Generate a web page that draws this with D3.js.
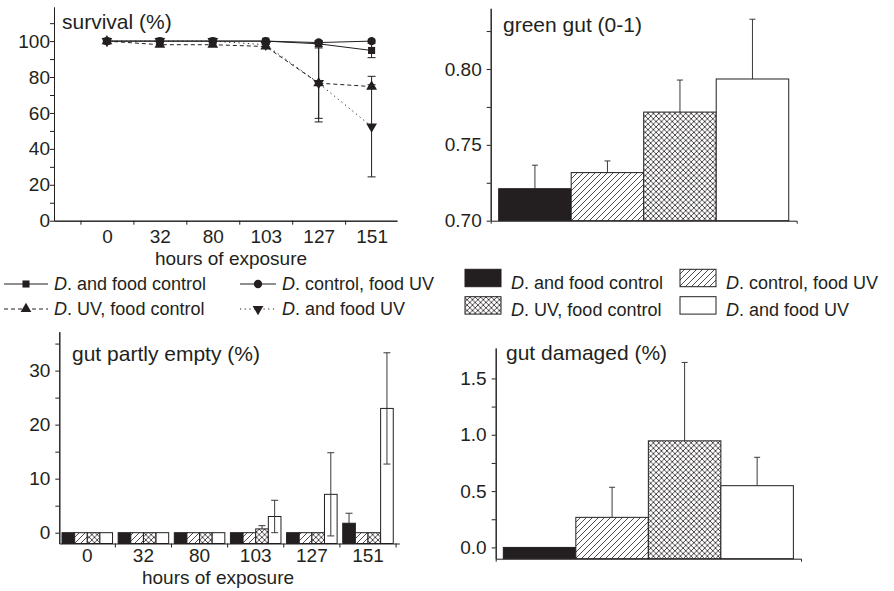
<!DOCTYPE html>
<html>
<head>
<meta charset="utf-8">
<script src="https://cdn.jsdelivr.net/npm/d3@7"></script>
<style>
body { margin: 0; background: #fff; }
svg text { font-family: "Liberation Sans", Arial, sans-serif; fill: #231f20; }
</style>
</head>
<body>
<div id="chart"></div>
<script>
// categories
const hours = ["0", "32", "80", "103", "127", "151"]
const groups = ["D. and food control", "D. control, food UV", "D. UV, food control", "D. and food UV"]

// survival (%) per group over hours, with error
const survControl = [100, 100, 100, 100, 98.5, 94.8]
const survControlErr = [0, 0.6, 0.6, 0.6, 1.5, 4]
const survFoodUV = [100, 100, 100, 100, 99.2, 100]
const survFoodUVErr = [0, 0, 0, 0, 1, 0]
const survUV = [100, 98, 98, 97, 76.6, 74.7]
const survUVErr = [0, 1, 1, 1, 19.6, 1]
const survBoth = [100, 100, 100, 98, 76.6, 52.4]
const survBothErr = [0, 0, 0, 1, 21.6, 28]

// green gut (0-1)
const greenGut = [0.7211, 0.7317, 0.7716, 0.7934]
const greenGutErr = [0.0155, 0.0077, 0.0211, 0.0394]

// gut partly empty (%) per group over hours
const emptyControl = [0, 0, 0, 0, 0, 1.75]
const emptyControlErr = [0, 0, 0, 0, 0, 1.85]
const emptyFoodUV = [0, 0, 0, 0, 0, 0]
const emptyFoodUVErr = [0, 0, 0, 0, 0, 0]
const emptyUV = [0, 0, 0, 0.7, 0, 0]
const emptyUVErr = [0, 0, 0, 0.6, 0, 0]
const emptyBoth = [0, 0, 0, 3, 7.1, 23]
const emptyBothErr = [0, 0, 0, 3, 7.7, 10.3]

// gut damaged (%)
const damaged = [0, 0.267, 0.946, 0.548]
const damagedErr = [0, 0.267, 0.696, 0.252]

// tick labels
const survTicks = [0, 20, 40, 60, 80, 100]
const greenTicks = [0.70, 0.75, 0.80]
const emptyTicks = [0, 10, 20, 30]
const damagedTicks = [0, 0.5, 1.0, 1.5]

const ink = "#231f20"
const font = '"Liberation Sans", Arial, sans-serif'

const svg = d3.select("#chart").append("svg").attr("width", 894).attr("height", 591)

// patterns
const defs = svg.append("defs")
const hatch = defs.append("pattern").attr("id", "hatch").attr("patternUnits", "userSpaceOnUse").attr("width", 6).attr("height", 6)
hatch.append("rect").attr("width", 6).attr("height", 6).attr("fill", "#fff")
hatch.append("path").attr("d", "M-1,1L1,-1M0,6L6,0M5,7L7,5").attr("stroke", ink).attr("stroke-width", 0.8)
const cross = defs.append("pattern").attr("id", "cross").attr("patternUnits", "userSpaceOnUse").attr("width", 5.4).attr("height", 5.4)
cross.append("rect").attr("width", 5.4).attr("height", 5.4).attr("fill", "#fff")
cross.append("path").attr("d", "M0,0L5.4,5.4M5.4,0L0,5.4").attr("stroke", ink).attr("stroke-width", 0.8)
const fills = [ink, "url(#hatch)", "url(#cross)", "#fff"]

function style(g, size) {
    g.selectAll("path, line").attr("stroke", ink)
    g.selectAll("text").attr("fill", ink).attr("font-family", font).attr("font-size", size)
}

function yAxis(x0, y, major, minor, fmt, pad) {
    const g = svg.append("g").attr("transform", `translate(${x0},0)`)
    g.append("g").call(d3.axisLeft(y).tickValues(minor).tickSize(4).tickSizeOuter(0).tickFormat(""))
    g.append("g").call(d3.axisLeft(y).tickValues(major).tickSize(4).tickSizeOuter(0).tickPadding(pad).tickFormat(fmt))
    style(g, 19)
}

function title(x, y, t) {
    svg.append("text").attr("x", x).attr("y", y).attr("font-size", 21).text(t)
}

function errBar(g, x, y1, y2, cap) {
    g.append("line").attr("x1", x).attr("x2", x).attr("y1", y1).attr("y2", y2)
    g.append("line").attr("x1", x - cap / 2).attr("x2", x + cap / 2).attr("y1", y2).attr("y2", y2)
}

// ---------- survival ----------
const xS = d3.scaleLinear().domain([-1, 5.48]).range([54, 397])
const yS = d3.scaleLinear().domain([0, 119]).range([220.7, 7])
yAxis(54, yS, survTicks, d3.range(10, 111, 20), d3.format("d"), 0)
const xsg = svg.append("g").attr("transform", `translate(0,${yS(0)})`)
xsg.append("g").call(d3.axisBottom(xS).tickValues(d3.range(-0.5, 5, 1)).tickSize(4).tickSizeOuter(0).tickFormat(""))
xsg.append("g").call(d3.axisBottom(xS).tickValues(d3.range(0, 6)).tickSize(0).tickPadding(9).tickFormat(i => hours[i]))
style(xsg, 19)
svg.append("text").attr("x", 231).attr("y", 265).attr("font-size", 19).attr("text-anchor", "middle").text("hours of exposure")
title(62, 29, "survival (%)")

const survival = [
    { v: survControl, e: survControlErr, sym: d3.symbolSquare, size: 50, rot: 0, dash: null },
    { v: survFoodUV, e: survFoodUVErr, sym: d3.symbolCircle, size: 55, rot: 0, dash: null },
    { v: survUV, e: survUVErr, sym: d3.symbolTriangle, size: 50, rot: 0, dash: "4,3" },
    { v: survBoth, e: survBothErr, sym: d3.symbolTriangle, size: 50, rot: 180, dash: "1.2,3.5" }
]
const errG = svg.append("g").attr("stroke", ink).attr("stroke-width", 1)
survival.forEach(s => s.v.forEach((d, i) => {
    if (s.e[i] > 0) {
        errBar(errG, xS(i), yS(d), yS(d + s.e[i]), 8)
        errBar(errG, xS(i), yS(d), yS(d - s.e[i]), 8)
    }
}))
const line = d3.line().x((d, i) => xS(i)).y(d => yS(d))
survival.forEach(s => {
    svg.append("path").attr("d", line(s.v)).attr("fill", "none").attr("stroke", ink)
        .attr("stroke-width", 1).attr("stroke-dasharray", s.dash)
})
survival.forEach(s => {
    svg.append("g").selectAll("path").data(s.v).join("path")
        .attr("d", d3.symbol(s.sym, s.size))
        .attr("transform", (d, i) => `translate(${xS(i)},${yS(d)}) rotate(${s.rot})`)
        .attr("fill", ink)
})

// ---------- green gut ----------
const xG = d3.scaleBand().domain(groups).range([490.7, 796.7]).paddingInner(0).paddingOuter(0.11)
const yG = d3.scaleLinear().domain([0.70, 0.84]).range([220.7, 8.3])
const ggErr = svg.append("g").attr("stroke", "#3a3a3a").attr("stroke-width", 1)
groups.forEach((g, i) => errBar(ggErr, xG(g) + xG.bandwidth() / 2, yG(greenGut[i]), yG(greenGut[i] + greenGutErr[i]), 6))
svg.append("g").selectAll("rect").data(greenGut).join("rect")
    .attr("x", (d, i) => xG(groups[i])).attr("y", d => yG(d))
    .attr("width", xG.bandwidth()).attr("height", d => yG(0.70) - yG(d))
    .attr("fill", (d, i) => fills[i]).attr("stroke", ink).attr("stroke-width", 1)
yAxis(490.7, yG, greenTicks, [0.725, 0.775, 0.825], d3.format(".2f"), 5)
const xgg = svg.append("g").attr("transform", `translate(0,${yG(0.70)})`)
    .call(d3.axisBottom(xG).tickValues([]).tickSizeOuter(3))
style(xgg, 19)
title(503, 32, "green gut (0-1)")

// ---------- gut partly empty ----------
const emptyData = [emptyControl, emptyFoodUV, emptyUV, emptyBoth]
const emptyErr = [emptyControlErr, emptyFoodUVErr, emptyUVErr, emptyBothErr]
const xE = d3.scaleBand().domain(hours).range([59.3, 399.3]).paddingInner(0.1).paddingOuter(0.078).align(0.31)
const xE2 = d3.scaleBand().domain(groups).range([0, xE.bandwidth()])
const yE = d3.scaleLinear().domain([-2, 37.2]).range([543.5, 331.7])
const epErr = svg.append("g").attr("stroke", "#3a3a3a").attr("stroke-width", 1)
groups.forEach((g, s) => hours.forEach((h, i) => {
    const v = emptyData[s][i], e = emptyErr[s][i]
    if (e > 0) {
        const cx = xE(h) + xE2(g) + xE2.bandwidth() / 2
        errBar(epErr, cx, yE(v), yE(v + e), 7)
    }
}))
groups.forEach((g, s) => {
    svg.append("g").selectAll("rect").data(emptyData[s]).join("rect")
        .attr("x", (d, i) => xE(hours[i]) + xE2(g)).attr("y", d => yE(d))
        .attr("width", xE2.bandwidth()).attr("height", d => yE(-2) - yE(d))
        .attr("fill", fills[s]).attr("stroke", ink).attr("stroke-width", 1)
})
// lower error bars show through the open bars
const epErr2 = svg.append("g").attr("stroke", "#3a3a3a").attr("stroke-width", 1)
hours.forEach((h, i) => {
    const v = emptyBoth[i], e = emptyBothErr[i]
    if (e > 0) errBar(epErr2, xE(h) + xE2(groups[3]) + xE2.bandwidth() / 2, yE(v), yE(v - e), 7)
})
yAxis(59.3, yE, emptyTicks, [5, 15, 25, 35], d3.format("d"), 5)
const xeg = svg.append("g").attr("transform", `translate(0,${yE(-2)})`)
xeg.append("g").call(d3.axisBottom(xE).tickSize(0).tickPadding(5).tickSizeOuter(0))
xeg.append("g").selectAll("line")
    .data(hours.slice(1).map(h => xE(h) - xE.step() * xE.paddingInner() / 2)
        .concat([xE(hours[5]) + xE.bandwidth() + xE.step() * xE.paddingInner() / 2]))
    .join("line").attr("x1", d => d).attr("x2", d => d).attr("y1", 0).attr("y2", 4)
style(xeg, 19)
svg.append("text").attr("x", 218).attr("y", 584).attr("font-size", 19).attr("text-anchor", "middle").text("hours of exposure")
title(72, 361, "gut partly empty (%)")

// ---------- gut damaged ----------
const xD = d3.scaleBand().domain(groups).range([495.7, 801]).paddingInner(0).paddingOuter(0.105)
const yD = d3.scaleLinear().domain([-0.1, 1.77]).range([558.7, 348])
const gdErr = svg.append("g").attr("stroke", "#3a3a3a").attr("stroke-width", 1)
groups.forEach((g, i) => {
    if (damagedErr[i] > 0) errBar(gdErr, xD(g) + xD.bandwidth() / 2, yD(damaged[i]), yD(damaged[i] + damagedErr[i]), 6)
})
svg.append("g").selectAll("rect").data(damaged).join("rect")
    .attr("x", (d, i) => xD(groups[i])).attr("y", d => yD(d))
    .attr("width", xD.bandwidth()).attr("height", d => yD(-0.1) - yD(d))
    .attr("fill", (d, i) => fills[i]).attr("stroke", ink).attr("stroke-width", 1)
yAxis(495.7, yD, damagedTicks, [0.25, 0.75, 1.25], d3.format(".1f"), 5)
const xdg = svg.append("g").attr("transform", `translate(0,${yD(-0.1)})`)
    .call(d3.axisBottom(xD).tickValues([]).tickSizeOuter(3))
style(xdg, 19)
title(506, 360, "gut damaged (%)")

// ---------- legends ----------
function legendText(x, y, name) {
    const t = svg.append("text").attr("x", x).attr("y", y).attr("font-size", 18)
    t.append("tspan").attr("font-style", "italic").text(name.slice(0, 1))
    t.append("tspan").text(name.slice(1))
}

const lineLegend = [[4, 284, 44], [240, 284, 36], [4, 309, 44], [240, 309, 36]]
survival.forEach((s, i) => {
    const [x, y, w] = lineLegend[i]
    svg.append("line").attr("x1", x).attr("x2", x + w).attr("y1", y).attr("y2", y)
        .attr("stroke", ink).attr("stroke-dasharray", s.dash)
    svg.append("path").attr("d", d3.symbol(s.sym, s.size)())
        .attr("transform", `translate(${x + w / 2},${y}) rotate(${s.rot})`).attr("fill", ink)
    legendText(x + w + 6, y + 6, groups[i])
})

const barLegend = [[465, 269.3], [680, 269.3], [465, 296.7], [680, 296.7]]
groups.forEach((g, i) => {
    const [x, y] = barLegend[i]
    svg.append("rect").attr("x", x).attr("y", y).attr("width", 36).attr("height", 17.4)
        .attr("fill", fills[i]).attr("stroke", ink).attr("stroke-width", 1)
    legendText(x + 46, y + 19.5, g)
})
</script>
</body>
</html>
